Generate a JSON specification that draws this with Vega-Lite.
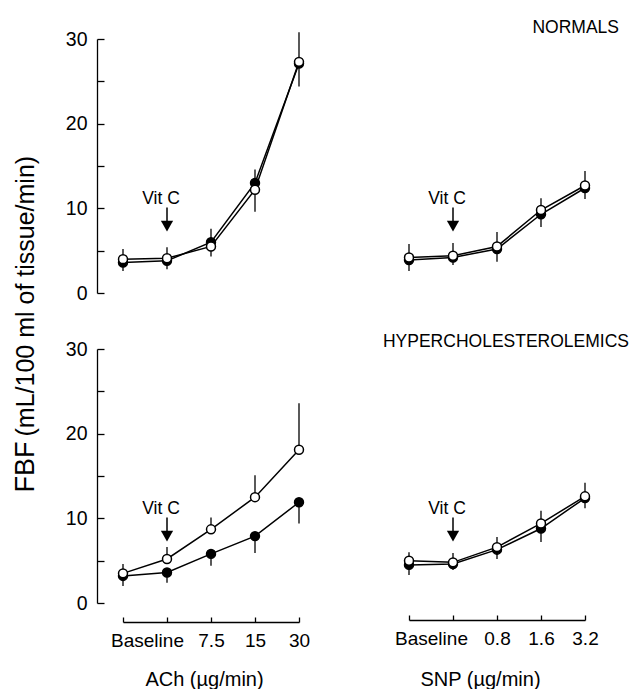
{
  "$schema": "https://vega.github.io/schema/vega-lite/v6.json",
  "autosize": {"type": "pad"},
  "padding": {"left": 11, "top": 19, "right": 5, "bottom": 0},
  "background": "white",
  "config": {"view": {"stroke": null}, "font": "Liberation Sans"},
  "bounds": "flush",
  "columns": 2,
  "spacing": {"row": 56, "column": 110},
  "datasets": {
    "fbf": [
      {"panel": "TL", "group": "filled", "dose": 0, "fbf": 3.6, "bar": 2.6},
      {"panel": "TL", "group": "filled", "dose": 1, "fbf": 3.8, "bar": 2.8},
      {"panel": "TL", "group": "filled", "dose": 2, "fbf": 6.0, "bar": 4.3},
      {"panel": "TL", "group": "filled", "dose": 3, "fbf": 13.0, "bar": 9.6},
      {"panel": "TL", "group": "filled", "dose": 4, "fbf": 27.1, "bar": 24.4},
      {"panel": "TL", "group": "open", "dose": 0, "fbf": 4.0, "bar": 5.2},
      {"panel": "TL", "group": "open", "dose": 1, "fbf": 4.1, "bar": 5.4},
      {"panel": "TL", "group": "open", "dose": 2, "fbf": 5.5, "bar": 7.6},
      {"panel": "TL", "group": "open", "dose": 3, "fbf": 12.2, "bar": 14.6},
      {"panel": "TL", "group": "open", "dose": 4, "fbf": 27.3, "bar": 30.8},
      {"panel": "TR", "group": "filled", "dose": 0, "fbf": 3.9, "bar": 2.6},
      {"panel": "TR", "group": "filled", "dose": 1, "fbf": 4.2, "bar": 3.3},
      {"panel": "TR", "group": "filled", "dose": 2, "fbf": 5.2, "bar": 3.7},
      {"panel": "TR", "group": "filled", "dose": 3, "fbf": 9.3, "bar": 7.8},
      {"panel": "TR", "group": "filled", "dose": 4, "fbf": 12.4, "bar": 11.1},
      {"panel": "TR", "group": "open", "dose": 0, "fbf": 4.2, "bar": 5.8},
      {"panel": "TR", "group": "open", "dose": 1, "fbf": 4.4, "bar": 5.9},
      {"panel": "TR", "group": "open", "dose": 2, "fbf": 5.5, "bar": 7.2},
      {"panel": "TR", "group": "open", "dose": 3, "fbf": 9.8, "bar": 11.2},
      {"panel": "TR", "group": "open", "dose": 4, "fbf": 12.7, "bar": 14.4},
      {"panel": "BL", "group": "filled", "dose": 0, "fbf": 3.2, "bar": 2.0},
      {"panel": "BL", "group": "filled", "dose": 1, "fbf": 3.6, "bar": 2.4},
      {"panel": "BL", "group": "filled", "dose": 2, "fbf": 5.8, "bar": 4.4},
      {"panel": "BL", "group": "filled", "dose": 3, "fbf": 7.9, "bar": 5.9},
      {"panel": "BL", "group": "filled", "dose": 4, "fbf": 11.9, "bar": 9.4},
      {"panel": "BL", "group": "open", "dose": 0, "fbf": 3.5, "bar": 4.6},
      {"panel": "BL", "group": "open", "dose": 1, "fbf": 5.2, "bar": 6.6},
      {"panel": "BL", "group": "open", "dose": 2, "fbf": 8.7, "bar": 10.1},
      {"panel": "BL", "group": "open", "dose": 3, "fbf": 12.5, "bar": 15.1},
      {"panel": "BL", "group": "open", "dose": 4, "fbf": 18.1, "bar": 23.6},
      {"panel": "BR", "group": "filled", "dose": 0, "fbf": 4.5, "bar": 3.3},
      {"panel": "BR", "group": "filled", "dose": 1, "fbf": 4.6, "bar": 3.9},
      {"panel": "BR", "group": "filled", "dose": 2, "fbf": 6.3, "bar": 5.2},
      {"panel": "BR", "group": "filled", "dose": 3, "fbf": 8.8, "bar": 7.2},
      {"panel": "BR", "group": "filled", "dose": 4, "fbf": 12.4, "bar": 11.2},
      {"panel": "BR", "group": "open", "dose": 0, "fbf": 5.0, "bar": 6.0},
      {"panel": "BR", "group": "open", "dose": 1, "fbf": 4.8, "bar": 5.9},
      {"panel": "BR", "group": "open", "dose": 2, "fbf": 6.6, "bar": 7.8},
      {"panel": "BR", "group": "open", "dose": 3, "fbf": 9.4, "bar": 10.9},
      {"panel": "BR", "group": "open", "dose": 4, "fbf": 12.6, "bar": 14.2}
    ],
    "vitc": [
      {"dose": 1, "label": "Vit C", "label_y": 10.5, "shaft_top": 10.1, "shaft_bottom": 8.4, "head": 7.9}
    ]
  },
  "concat": [
    {
      "width": 176, "height": 254,
      "encoding": {
        "x": {"field": "dose", "type": "quantitative", "scale": {"domain": [0, 4], "nice": false, "zero": false}, "axis": null},
        "y": {"field": "fbf", "type": "quantitative", "scale": {"domain": [0, 30], "nice": false},
          "axis": {"values": [0, 5, 10, 15, 20, 25, 30], "labelExpr": "datum.value % 10 == 0 ? datum.label : ''", "labelFlush": false, "labelOverlap": false, "offset": 26, "tickSize": -7, "tickColor": "black", "tickWidth": 1.3, "domainColor": "black", "domainWidth": 1.3, "labelFontSize": 19.5, "labelFont": "Liberation Sans", "labelColor": "black", "labelPadding": 17, "grid": false,
            "title": "(mL/100 ml of tissue/min)", "titleFontSize": 25, "titleFont": "Liberation Sans", "titleFontWeight": "normal", "titleColor": "black", "titleAngle": 270, "titleAlign": "left", "titleBaseline": "alphabetic", "titleX": -64, "titleY": 397}}
      },
      "layer": [
        {
          "data": {"name": "fbf"},
          "transform": [{"filter": "datum.panel == 'TL'"}],
          "mark": {"type": "rule", "strokeWidth": 1.3, "color": "black"},
          "encoding": {"y2": {"field": "bar"}}
        },
        {
          "data": {"name": "fbf"},
          "transform": [{"filter": "datum.panel == 'TL'"}],
          "mark": {"type": "line", "strokeWidth": 1.5, "color": "black"},
          "encoding": {"detail": {"field": "group"}}
        },
        {
          "data": {"name": "fbf"},
          "transform": [{"filter": "datum.panel == 'TL'"}],
          "mark": {"type": "point", "shape": "circle", "size": 80, "filled": true, "stroke": "black", "strokeWidth": 1.5, "opacity": 1},
          "encoding": {"fill": {"field": "group", "type": "nominal", "scale": {"domain": ["filled", "open"], "range": ["black", "white"]}, "legend": null}}
        },
        {
          "data": {"name": "vitc"},
          "mark": {"type": "text", "fontSize": 17.5, "font": "Liberation Sans", "dx": -6, "baseline": "alphabetic", "align": "center", "color": "black"},
          "encoding": {"y": {"field": "label_y", "type": "quantitative"}, "text": {"field": "label"}}
        },
        {
          "data": {"name": "vitc"},
          "mark": {"type": "rule", "strokeWidth": 1.5, "color": "black"},
          "encoding": {"y": {"field": "shaft_top", "type": "quantitative"}, "y2": {"field": "shaft_bottom"}}
        },
        {
          "data": {"name": "vitc"},
          "mark": {"type": "point", "shape": "triangle-down", "size": 150, "filled": true, "color": "black", "opacity": 1},
          "encoding": {"y": {"field": "head", "type": "quantitative"}}
        }
      ]
    },
    {
      "width": 176, "height": 254,
      "title": {"text": "NORMALS", "anchor": "end", "frame": "group", "fontSize": 17.5, "fontWeight": "normal", "font": "Liberation Sans", "color": "black", "baseline": "alphabetic", "offset": 7, "dx": 34, "dy": 18.5},
      "encoding": {
        "x": {"field": "dose", "type": "quantitative", "scale": {"domain": [0, 4], "nice": false, "zero": false}, "axis": null},
        "y": {"field": "fbf", "type": "quantitative", "scale": {"domain": [0, 30], "nice": false}, "axis": null}
      },
      "layer": [
        {
          "data": {"name": "fbf"},
          "transform": [{"filter": "datum.panel == 'TR'"}],
          "mark": {"type": "rule", "strokeWidth": 1.3, "color": "black"},
          "encoding": {"y2": {"field": "bar"}}
        },
        {
          "data": {"name": "fbf"},
          "transform": [{"filter": "datum.panel == 'TR'"}],
          "mark": {"type": "line", "strokeWidth": 1.5, "color": "black"},
          "encoding": {"detail": {"field": "group"}}
        },
        {
          "data": {"name": "fbf"},
          "transform": [{"filter": "datum.panel == 'TR'"}],
          "mark": {"type": "point", "shape": "circle", "size": 80, "filled": true, "stroke": "black", "strokeWidth": 1.5, "opacity": 1},
          "encoding": {"fill": {"field": "group", "type": "nominal", "scale": {"domain": ["filled", "open"], "range": ["black", "white"]}, "legend": null}}
        },
        {
          "data": {"name": "vitc"},
          "mark": {"type": "text", "fontSize": 17.5, "font": "Liberation Sans", "dx": -6, "baseline": "alphabetic", "align": "center", "color": "black"},
          "encoding": {"y": {"field": "label_y", "type": "quantitative"}, "text": {"field": "label"}}
        },
        {
          "data": {"name": "vitc"},
          "mark": {"type": "rule", "strokeWidth": 1.5, "color": "black"},
          "encoding": {"y": {"field": "shaft_top", "type": "quantitative"}, "y2": {"field": "shaft_bottom"}}
        },
        {
          "data": {"name": "vitc"},
          "mark": {"type": "point", "shape": "triangle-down", "size": 150, "filled": true, "color": "black", "opacity": 1},
          "encoding": {"y": {"field": "head", "type": "quantitative"}}
        }
      ]
    },
    {
      "width": 176, "height": 254,
      "encoding": {
        "x": {"field": "dose", "type": "quantitative", "scale": {"domain": [0, 4], "nice": false, "zero": false},
          "axis": {"values": [0, 1, 2, 3, 4], "labelExpr": "datum.value == 0 ? 'Baseline' : datum.value == 2 ? '7.5' : datum.value == 3 ? '15' : datum.value == 4 ? '30' : ''", "labelOffset": {"condition": {"test": "datum.value == 0", "value": 24}, "value": 0}, "labelFlush": false, "labelOverlap": false, "offset": 19, "tickSize": -5, "tickColor": "black", "tickWidth": 1.3, "domainColor": "black", "domainWidth": 1.3, "labelFontSize": 19, "labelFont": "Liberation Sans", "labelColor": "black", "labelPadding": 14, "grid": false,
            "title": "ACh (µg/min)", "titleFontSize": 20, "titleFont": "Liberation Sans", "titleFontWeight": "normal", "titleColor": "black", "titleAlign": "center", "titleBaseline": "alphabetic", "titleX": 81, "titleY": 63}},
        "y": {"field": "fbf", "type": "quantitative", "scale": {"domain": [0, 30], "nice": false},
          "axis": {"values": [0, 5, 10, 15, 20, 25, 30], "labelExpr": "datum.value % 10 == 0 ? datum.label : ''", "labelFlush": false, "labelOverlap": false, "offset": 26, "tickSize": -7, "tickColor": "black", "tickWidth": 1.3, "domainColor": "black", "domainWidth": 1.3, "labelFontSize": 19.5, "labelFont": "Liberation Sans", "labelColor": "black", "labelPadding": 17, "grid": false,
            "title": "FBF", "titleFontSize": 27, "titleFont": "Liberation Sans", "titleFontWeight": "normal", "titleColor": "black", "titleAngle": 270, "titleAlign": "left", "titleBaseline": "alphabetic", "titleX": -64, "titleY": 143}}
      },
      "layer": [
        {
          "data": {"name": "fbf"},
          "transform": [{"filter": "datum.panel == 'BL'"}],
          "mark": {"type": "rule", "strokeWidth": 1.3, "color": "black"},
          "encoding": {"y2": {"field": "bar"}}
        },
        {
          "data": {"name": "fbf"},
          "transform": [{"filter": "datum.panel == 'BL'"}],
          "mark": {"type": "line", "strokeWidth": 1.5, "color": "black"},
          "encoding": {"detail": {"field": "group"}}
        },
        {
          "data": {"name": "fbf"},
          "transform": [{"filter": "datum.panel == 'BL'"}],
          "mark": {"type": "point", "shape": "circle", "size": 80, "filled": true, "stroke": "black", "strokeWidth": 1.5, "opacity": 1},
          "encoding": {"fill": {"field": "group", "type": "nominal", "scale": {"domain": ["filled", "open"], "range": ["black", "white"]}, "legend": null}}
        },
        {
          "data": {"name": "vitc"},
          "mark": {"type": "text", "fontSize": 17.5, "font": "Liberation Sans", "dx": -6, "baseline": "alphabetic", "align": "center", "color": "black"},
          "encoding": {"y": {"field": "label_y", "type": "quantitative"}, "text": {"field": "label"}}
        },
        {
          "data": {"name": "vitc"},
          "mark": {"type": "rule", "strokeWidth": 1.5, "color": "black"},
          "encoding": {"y": {"field": "shaft_top", "type": "quantitative"}, "y2": {"field": "shaft_bottom"}}
        },
        {
          "data": {"name": "vitc"},
          "mark": {"type": "point", "shape": "triangle-down", "size": 150, "filled": true, "color": "black", "opacity": 1},
          "encoding": {"y": {"field": "head", "type": "quantitative"}}
        }
      ]
    },
    {
      "width": 176, "height": 254,
      "title": {"text": "HYPERCHOLESTEROLEMICS", "anchor": "end", "frame": "group", "fontSize": 17.5, "fontWeight": "normal", "font": "Liberation Sans", "color": "black", "baseline": "alphabetic", "offset": 3, "dx": 44, "dy": 18.5},
      "encoding": {
        "x": {"field": "dose", "type": "quantitative", "scale": {"domain": [0, 4], "nice": false, "zero": false},
          "axis": {"values": [0, 1, 2, 3, 4], "labelExpr": "datum.value == 0 ? 'Baseline' : datum.value == 2 ? '0.8' : datum.value == 3 ? '1.6' : datum.value == 4 ? '3.2' : ''", "labelOffset": {"condition": {"test": "datum.value == 0", "value": 22}, "value": 0}, "labelFlush": false, "labelOverlap": false, "offset": 17, "tickSize": -5, "tickColor": "black", "tickWidth": 1.3, "domainColor": "black", "domainWidth": 1.3, "labelFontSize": 19, "labelFont": "Liberation Sans", "labelColor": "black", "labelPadding": 14, "grid": false,
            "title": "SNP (µg/min)", "titleFontSize": 20, "titleFont": "Liberation Sans", "titleFontWeight": "normal", "titleColor": "black", "titleAlign": "center", "titleBaseline": "alphabetic", "titleX": 71, "titleY": 65}},
        "y": {"field": "fbf", "type": "quantitative", "scale": {"domain": [0, 30], "nice": false}, "axis": null}
      },
      "layer": [
        {
          "data": {"name": "fbf"},
          "transform": [{"filter": "datum.panel == 'BR'"}],
          "mark": {"type": "rule", "strokeWidth": 1.3, "color": "black"},
          "encoding": {"y2": {"field": "bar"}}
        },
        {
          "data": {"name": "fbf"},
          "transform": [{"filter": "datum.panel == 'BR'"}],
          "mark": {"type": "line", "strokeWidth": 1.5, "color": "black"},
          "encoding": {"detail": {"field": "group"}}
        },
        {
          "data": {"name": "fbf"},
          "transform": [{"filter": "datum.panel == 'BR'"}],
          "mark": {"type": "point", "shape": "circle", "size": 80, "filled": true, "stroke": "black", "strokeWidth": 1.5, "opacity": 1},
          "encoding": {"fill": {"field": "group", "type": "nominal", "scale": {"domain": ["filled", "open"], "range": ["black", "white"]}, "legend": null}}
        },
        {
          "data": {"name": "vitc"},
          "mark": {"type": "text", "fontSize": 17.5, "font": "Liberation Sans", "dx": -6, "baseline": "alphabetic", "align": "center", "color": "black"},
          "encoding": {"y": {"field": "label_y", "type": "quantitative"}, "text": {"field": "label"}}
        },
        {
          "data": {"name": "vitc"},
          "mark": {"type": "rule", "strokeWidth": 1.5, "color": "black"},
          "encoding": {"y": {"field": "shaft_top", "type": "quantitative"}, "y2": {"field": "shaft_bottom"}}
        },
        {
          "data": {"name": "vitc"},
          "mark": {"type": "point", "shape": "triangle-down", "size": 150, "filled": true, "color": "black", "opacity": 1},
          "encoding": {"y": {"field": "head", "type": "quantitative"}}
        }
      ]
    }
  ]
}
